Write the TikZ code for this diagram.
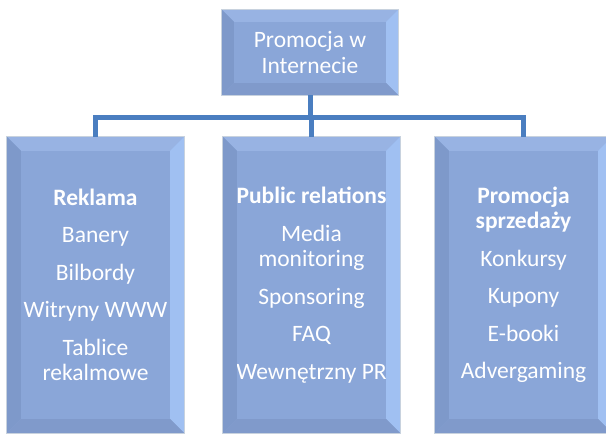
\documentclass[tikz,border=0pt]{standalone}
\usepackage{fontspec}
\setmainfont{Carlito}
\usetikzlibrary{calc}
\definecolor{boxfill}{RGB}{138,166,216}
\definecolor{bevtop}{RGB}{152,179,227}
\definecolor{bevright}{RGB}{160,192,242}
\definecolor{bevleft}{RGB}{126,153,202}
\definecolor{bevbottom}{RGB}{128,154,203}
\definecolor{boxedge}{RGB}{200,210,222}
\definecolor{linkblue}{RGB}{74,126,192}
\def\bevel(#1)(#2){%
  \fill[bevtop] (#1.north west) -- (#1.north east) -- ($(#1.north east)+(-#2,#2)$) -- ($(#1.north west)+(#2,#2)$) -- cycle;
  \fill[bevright] (#1.north east) -- (#1.south east) -- ($(#1.south east)+(-#2,-#2)$) -- ($(#1.north east)+(-#2,#2)$) -- cycle;
  \fill[bevleft] (#1.north west) -- (#1.south west) -- ($(#1.south west)+(#2,-#2)$) -- ($(#1.north west)+(#2,#2)$) -- cycle;
  \fill[bevbottom] (#1.south west) -- (#1.south east) -- ($(#1.south east)+(-#2,-#2)$) -- ($(#1.south west)+(#2,-#2)$) -- cycle;
  \draw[boxedge, line width=1pt] (#1.north west) rectangle (#1.south east);}
\tikzset{
  box/.style={fill=boxfill, text=white, align=center, inner sep=0pt,
    font=\fontsize{23.5}{25.5}\selectfont},
  link/.style={draw=linkblue, line width=5pt}
}

\begin{document}
\begin{tikzpicture}[x=1pt, y=-1pt]
		%%%%% START %%%%%
		
		\clip (0, 0) rectangle (606, 435);
		
		\node[box, minimum width=176pt, minimum height=85pt] (top) at (310, 52.5) {Promocja w\\Internecie};
		
		\node[box, minimum width=177pt, minimum height=296pt] (reklama) at (95.5, 285)
			{\textbf{Reklama}\\[12pt]Banery\\[12pt]Bilbordy\\[12pt]Witryny WWW\\[12pt]Tablice\\rekalmowe};
		\node[box, minimum width=177pt, minimum height=296pt] (pr) at (311.5, 285)
			{\textbf{Public relations}\\[12pt]Media\\monitoring\\[12pt]Sponsoring\\[12pt]FAQ\\[12pt]Wewnętrzny PR};
		\node[box, minimum width=177pt, minimum height=296pt] (sprzedaz) at (523.5, 285)
			{\textbf{Promocja}\\\textbf{sprzedaży}\\[12pt]Konkursy\\[12pt]Kupony\\[12pt]E-booki\\[12pt]Advergaming};
		
		\bevel(top)(12);
		\bevel(reklama)(14);
		\bevel(pr)(14);
		\bevel(sprzedaz)(14);
		
		\draw[link] (top.south) -- ++(0, 22) -| (reklama.north);
		\draw[link] (top.south) -- ++(0, 22) -| (pr.north);
		\draw[link] (top.south) -- ++(0, 22) -| (sprzedaz.north);
		
		%%%%% END %%%%%
	\end{tikzpicture}
\end{document}
